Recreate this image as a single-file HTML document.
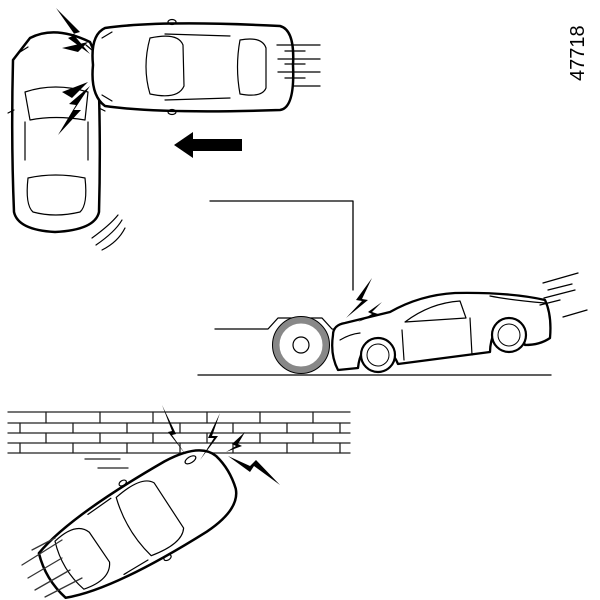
<!DOCTYPE html>
<html><head><style>body{margin:0;background:#fff}svg{display:block}</style></head><body>
<svg width="600" height="600" viewBox="0 0 600 600" xmlns="http://www.w3.org/2000/svg" fill="none" stroke="#000" stroke-linecap="round" stroke-linejoin="round">
<rect width="600" height="600" fill="#fff" stroke="none"/>
<text x="0" y="0" transform="translate(584,81) rotate(-90)" font-family="Liberation Sans, sans-serif" font-size="20" fill="#000" stroke="none">47718</text>
<!-- vertical car -->
<path d="M30,38 Q55,25 90,42 L98,60 Q101,140 99,212 Q95,230 55,232 Q18,230 14,212 Q11,140 13,60 Z" fill="#fff" stroke-width="2.5"/>
<g stroke-width="1.2">
<path d="M25,92 Q55,82 88,92 L85,120 Q55,115 30,120 Z"/>
<path d="M28,178 Q55,172 85,178 Q88,205 80,212 Q55,218 33,212 Q25,205 28,178 Z"/>
<path d="M25,122 L25,160 M88,122 L88,160"/>
<path d="M20,52 l8,-5 M92,50 l-6,-5"/>
<path d="M14,110 l-6,3 M99,108 l6,3"/>
</g>
<!-- horizontal car -->
<path d="M105,28 Q160,20 280,26 Q295,30 293,65 Q295,108 280,110 Q160,114 105,106 Q90,95 93,65 Q90,35 105,28 Z" fill="#fff" stroke-width="2.5"/>
<g stroke-width="1.2">
<path d="M150,38 Q178,32 183,45 L184,86 Q178,100 150,94 Q142,67 150,38 Z"/>
<path d="M240,40 Q262,36 266,48 L266,88 Q262,98 240,94 Q235,67 240,40 Z"/>
<path d="M165,34 L230,36 M165,100 L230,98"/>
<path d="M102,38 l10,-6 M102,95 l10,6"/>
<ellipse cx="172" cy="22" rx="4" ry="2.5"/><ellipse cx="172" cy="112" rx="4" ry="2.5"/>
</g>
<g stroke-width="1.3">
<path d="M277,45 L320,45 M285,51 L305,51 M278,59 L320,59 M285,64 L305,64 M278,72 L320,72 M285,78 L305,78 M293,86 L320,86"/>
</g>
<!-- sparks top -->
<g fill="#000" stroke="none">
<path d="M56,8 L80,32 L73,34 L90,54 L68,38 L75,35 Z"/>
<path d="M62,48 L88,42 L78,52 Z"/>
<path d="M58,135 L76,105 L69,104 L90,86 L74,110 L81,110 Z"/>
<path d="M62,92 L88,82 L72,98 Z"/>
</g>
<g stroke-width="1.2"><path d="M92,238 Q110,225 118,215 M96,245 Q115,232 122,220 M102,250 Q118,242 125,228"/></g>
<!-- arrow -->
<path d="M174,145 L193,132 L193,139 L242,139 L242,151 L193,151 L193,158 Z" fill="#000" stroke="none"/>
<!-- truck -->
<g stroke-width="1.3">
<path d="M210,201 L353,201 L353,290"/>
<path d="M215,329 L268,329 L278,318 L322,318 L332,329 L342,330"/>
<path d="M198,375 L551,375"/>
</g>
<circle cx="301" cy="345" r="25" fill="#fff" stroke="#888" stroke-width="7"/>
<circle cx="301" cy="345" r="28.5" stroke-width="1"/>
<circle cx="301" cy="345" r="8" stroke-width="1.2"/>
<!-- side car -->
<path d="M333,335 Q333,325 345,323 L390,312 Q420,295 455,293 Q510,292 545,300 Q552,315 550,338 Q540,345 525,345 Q515,322 495,330 Q490,342 490,352 L398,364 Q390,345 372,345 Q360,348 358,368 L338,370 Q330,355 333,335 Z" fill="#fff" stroke-width="2.3"/>
<g stroke-width="1.2">
<path d="M405,322 Q430,303 460,301 L466,318 Z"/>
<path d="M402,330 L404,360 M470,318 L472,355"/>
<path d="M340,340 Q350,334 360,333"/>
<path d="M545,303 Q510,300 490,296"/>
</g>
<circle cx="378" cy="355" r="17" fill="#fff" stroke-width="2.2"/><circle cx="378" cy="355" r="11" stroke-width="1"/>
<circle cx="509" cy="335" r="17" fill="#fff" stroke-width="2.2"/><circle cx="509" cy="335" r="11" stroke-width="1"/>
<g stroke-width="1.3"><path d="M543,283 L578,273 M548,290 L572,284 M544,298 L575,290 M563,317 L587,310 M540,305 L560,300"/></g>
<g fill="#000" stroke="none">
<path d="M372,278 L356,300 L362,301 L346,318 L368,300 L362,299 Z"/>
<path d="M382,302 L368,312 L372,314 L358,322 L378,314 L372,312 Z"/>
</g>
<!-- wall -->
<g stroke-width="1.3" stroke="#222">
<path d="M8,412 L350,412 M8,423 L350,423 M8,433 L350,433 M8,443 L350,443 M8,453 L350,453"/>
<path d="M46,412 V423 M100,412 V423 M153,412 V423 M207,412 V423 M260,412 V423 M313,412 V423"/>
<path d="M20,423 V433 M73,423 V433 M127,423 V433 M180,423 V433 M233,423 V433 M287,423 V433 M340,423 V433"/>
<path d="M46,433 V443 M100,433 V443 M153,433 V443 M207,433 V443 M260,433 V443 M313,433 V443"/>
<path d="M20,443 V453 M73,443 V453 M127,443 V453 M180,443 V453 M233,443 V453 M287,443 V453 M340,443 V453"/>
<path d="M85,459 L120,459 M98,468 L128,468"/>
</g>
<!-- diagonal car -->
<g transform="translate(138,524) rotate(-31)">
<path d="M-100,-26 Q-55,-42 55,-40 Q95,-38 102,-18 Q107,0 102,20 Q95,40 55,42 Q-55,44 -100,26 Q-108,0 -100,-26 Z" fill="#fff" stroke-width="2.5"/>
<g stroke-width="1.2">
<path d="M-80,-28 Q-52,-34 -46,-18 L-44,18 Q-52,34 -80,28 Q-89,0 -80,-28 Z"/>
<path d="M-5,-34 Q28,-40 35,-27 L37,27 Q28,40 -5,34 Q-14,0 -5,-34 Z"/>
<path d="M-38,-34 L-10,-36 M-38,36 L-10,36"/>
<ellipse cx="78" cy="-28" rx="6" ry="3"/>
<ellipse cx="8" cy="-43" rx="4" ry="2.5"/><ellipse cx="8" cy="44" rx="4" ry="2.5"/>
</g>
</g>
<g stroke-width="1.3" stroke="#333"><path d="M22,565 L62,540 M28,578 L62,558 M35,590 L70,570 M45,597 L82,578 M32,550 L55,538"/></g>
<g fill="#000" stroke="none">
<path d="M162,405 L176,434 L172,435 L186,455 L168,432 L172,431 Z"/>
<path d="M220,413 L208,438 L214,438 L200,460 L218,436 L212,436 Z"/>
<path d="M245,432 L232,444 L236,446 L226,452 L242,446 L238,444 Z"/>
<path d="M228,456 L250,466 L256,460 L280,485 L254,466 L250,472 Z"/>
</g>
</svg>
</body></html>
